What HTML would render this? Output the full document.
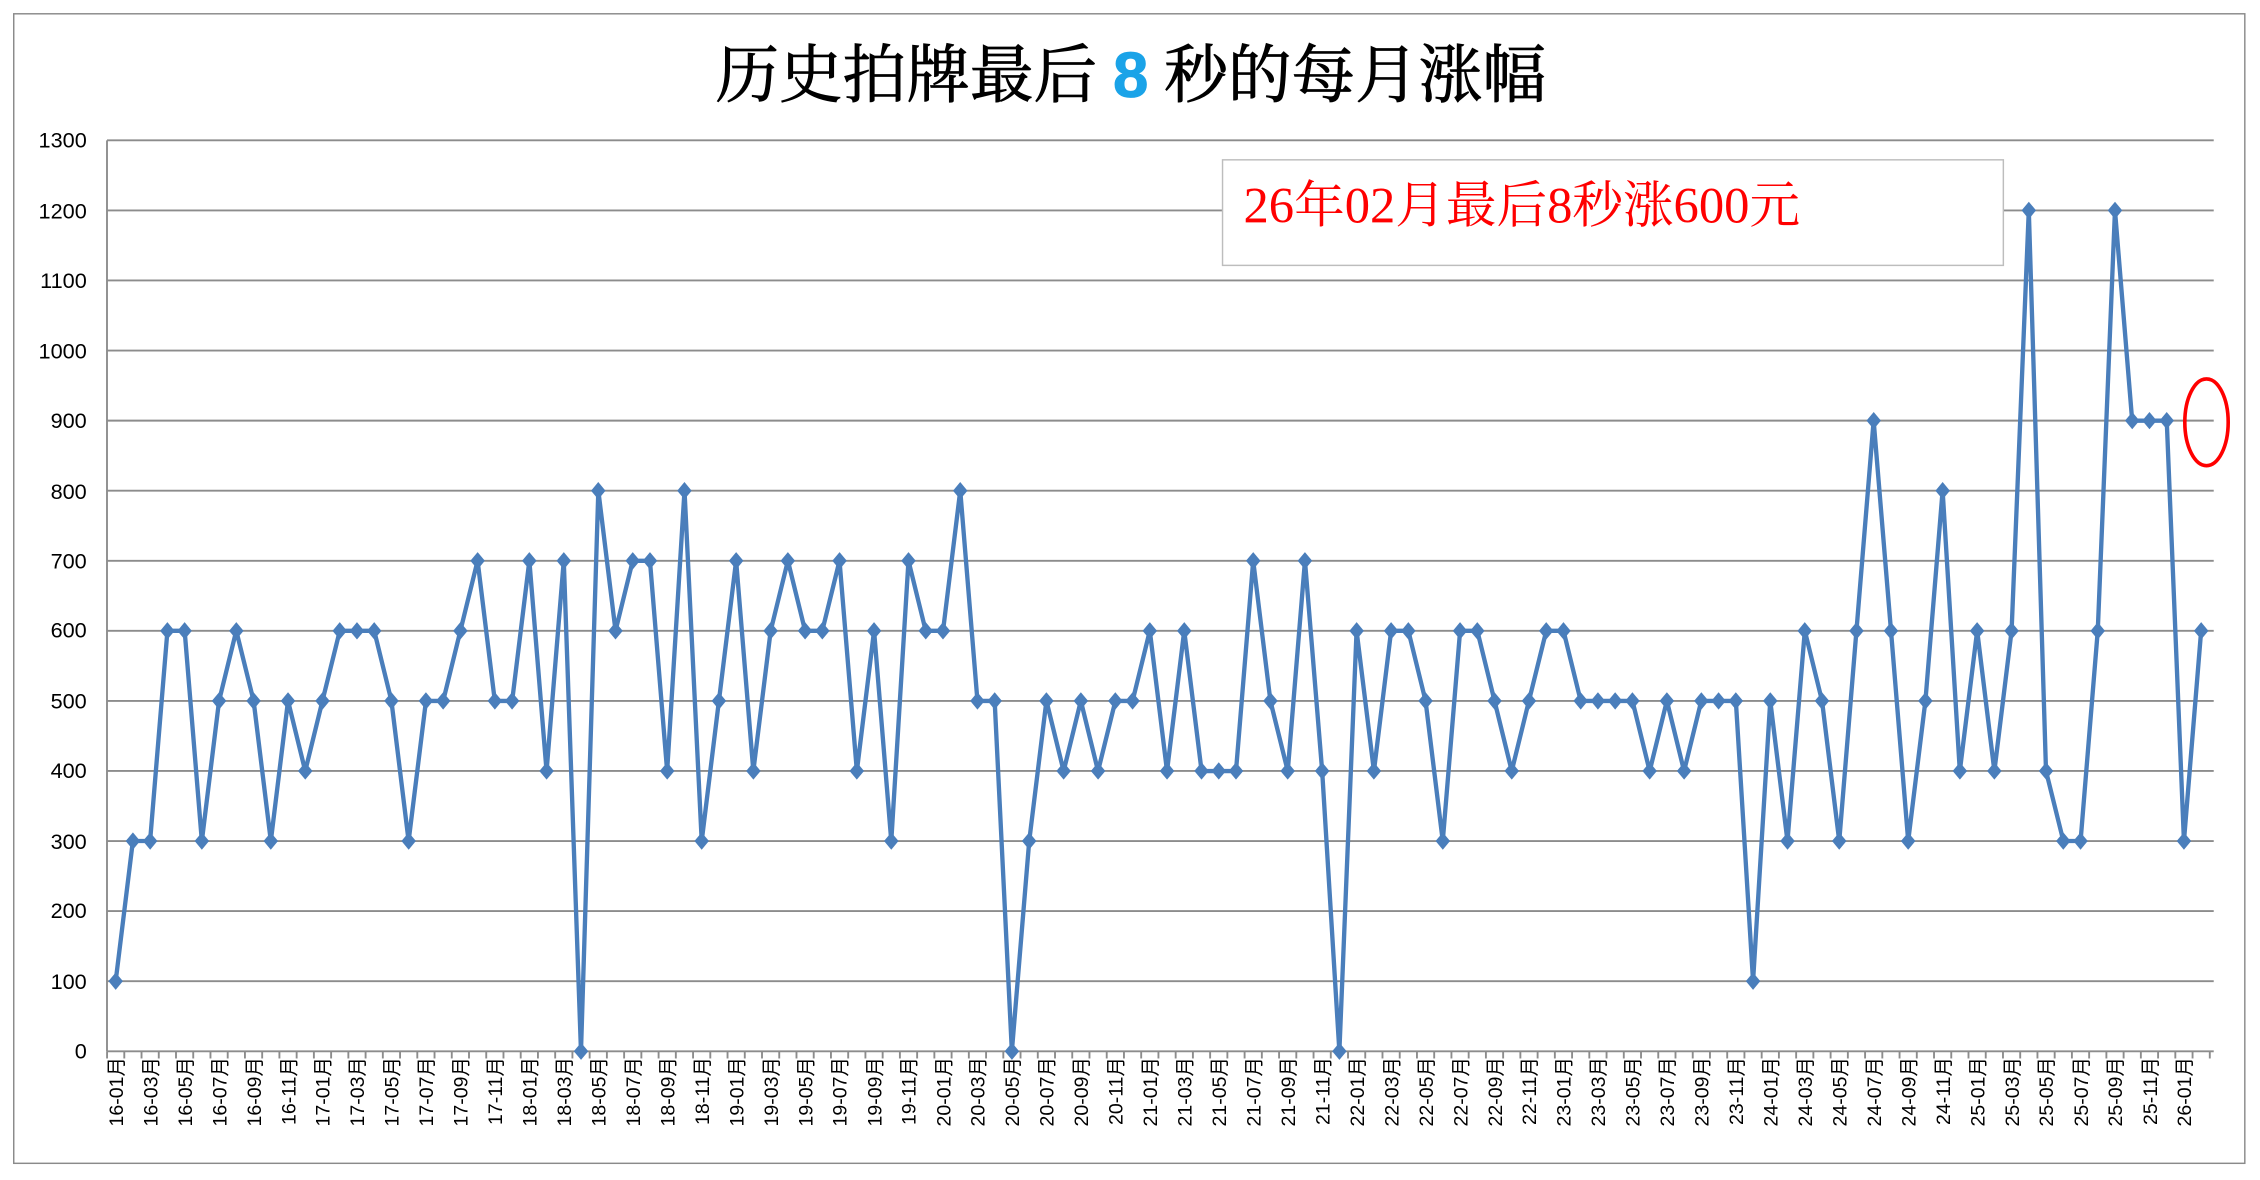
<!DOCTYPE html>
<html><head><meta charset="utf-8"><style>
html,body{margin:0;padding:0;background:#fff;}
svg{display:block}
text{font-family:"Liberation Sans","Noto Sans CJK SC",sans-serif;}
</style></head><body>
<svg id="s" width="2260" height="1180" viewBox="0 0 1563 816" xmlns="http://www.w3.org/2000/svg">
<rect x="0" y="0" width="1563" height="816" fill="#fff"/>
<rect x="9.5" y="9.5" width="1543" height="795" fill="none" stroke="#8a8a8a" stroke-width="1"/>
<text x="782" y="67" text-anchor="middle" font-size="44" fill="#000" stroke="#000" stroke-width="0.6" style="font-family:'Liberation Serif','Noto Serif CJK SC',serif">历史拍牌最后 <tspan fill="#1aa3e8" stroke="#1aa3e8" font-weight="bold" style="font-family:'Liberation Sans',sans-serif">8</tspan> 秒的每月涨幅</text>
<g id="grid" stroke="#8c8c8c" stroke-width="1.3"></g>
<g font-size="15" text-anchor="end" fill="#000" id="yl">
<text x="60" y="732">0</text><text x="60" y="684">100</text><text x="60" y="635">200</text><text x="60" y="587">300</text><text x="60" y="538">400</text><text x="60" y="490">500</text><text x="60" y="441">600</text><text x="60" y="393">700</text><text x="60" y="345">800</text><text x="60" y="296">900</text><text x="60" y="248">1000</text><text x="60" y="199">1100</text><text x="60" y="151">1200</text><text x="60" y="102">1300</text>
</g>
<rect x="845.5" y="110.5" width="540" height="73" fill="#fff" stroke="#bdbdbd"/>
<text x="860" y="154" font-size="35" fill="#ff0000" style="font-family:'Liberation Serif','Noto Serif CJK SC',serif">26年02月最后8秒涨600元</text>
<g transform="rotate(-90)" font-size="13.5" text-anchor="end" fill="#000" id="xl"></g>
<g id="data"></g>
<ellipse cx="1526" cy="292" rx="15" ry="30" fill="none" stroke="#ff0000" stroke-width="2.5"/>
</svg>
<script>
var NS="http://www.w3.org/2000/svg";
function el(t,a,p){var e=document.createElementNS(NS,t);for(var k in a)e.setAttribute(k,a[k]);p.appendChild(e);return e;}
var g=document.getElementById('grid');
var y0=727,dy=48.46,x0=74,x1=1531;
for(var i=1;i<=13;i++){var y=y0-i*dy;el('line',{x1:x0,x2:x1,y1:y,y2:y},g);}
el('line',{x1:x0,x2:x0,y1:97,y2:y0},g);
el('line',{x1:x0,x2:x1,y1:y0,y2:y0},g);
var step=11.92,xs=80;
for(var i=0;i<=122;i++){var x=xs-step/2+i*step;el('line',{x1:x,x2:x,y1:y0,y2:y0+5},g);}
var xl=document.getElementById('xl');
var texts=["16-01月","16-03月","16-05月","16-07月","16-09月","16-11月","17-01月","17-03月","17-05月","17-07月","17-09月","17-11月","18-01月","18-03月","18-05月","18-07月","18-09月","18-11月","19-01月","19-03月","19-05月","19-07月","19-09月","19-11月","20-01月","20-03月","20-05月","20-07月","20-09月","20-11月","21-01月","21-03月","21-05月","21-07月","21-09月","21-11月","22-01月","22-03月","22-05月","22-07月","22-09月","22-11月","23-01月","23-03月","23-05月","23-07月","23-09月","23-11月","24-01月","24-03月","24-05月","24-07月","24-09月","24-11月","25-01月","25-03月","25-05月","25-07月","25-09月","25-11月","26-01月"];
for(var k=0;k<texts.length;k++){var t=el('text',{x:-731,y:(xs+2*k*step+5).toFixed(1)},xl);t.textContent=texts[k];}
var v=[100,300,300,600,600,300,500,600,500,300,500,400,500,600,600,600,500,300,500,500,600,700,500,500,700,400,700,0,800,600,700,700,400,800,300,500,700,400,600,700,600,600,700,400,600,300,700,600,600,800,500,500,0,300,500,400,500,400,500,500,600,400,600,400,400,400,700,500,400,700,400,0,600,400,600,600,500,300,600,600,500,400,500,600,600,500,500,500,500,400,500,400,500,500,500,100,500,300,600,500,300,600,900,600,300,500,800,400,600,400,600,1200,400,300,300,600,1200,900,900,900,300,600];
var d=document.getElementById('data'),pts=[];
for(var i=0;i<v.length;i++){pts.push((xs+i*step).toFixed(1)+','+(y0-v[i]/100*dy).toFixed(1));}
el('polyline',{points:pts.join(' '),fill:'none',stroke:'#4a7ebb','stroke-width':3,'stroke-linejoin':'round'},d);
for(var i=0;i<v.length;i++){var x=xs+i*step,y=y0-v[i]/100*dy;el('polygon',{points:(x)+','+(y-6)+' '+(x+5)+','+y+' '+x+','+(y+6)+' '+(x-5)+','+y,fill:'#4a7ebb'},d);}
</script>
</body></html>
